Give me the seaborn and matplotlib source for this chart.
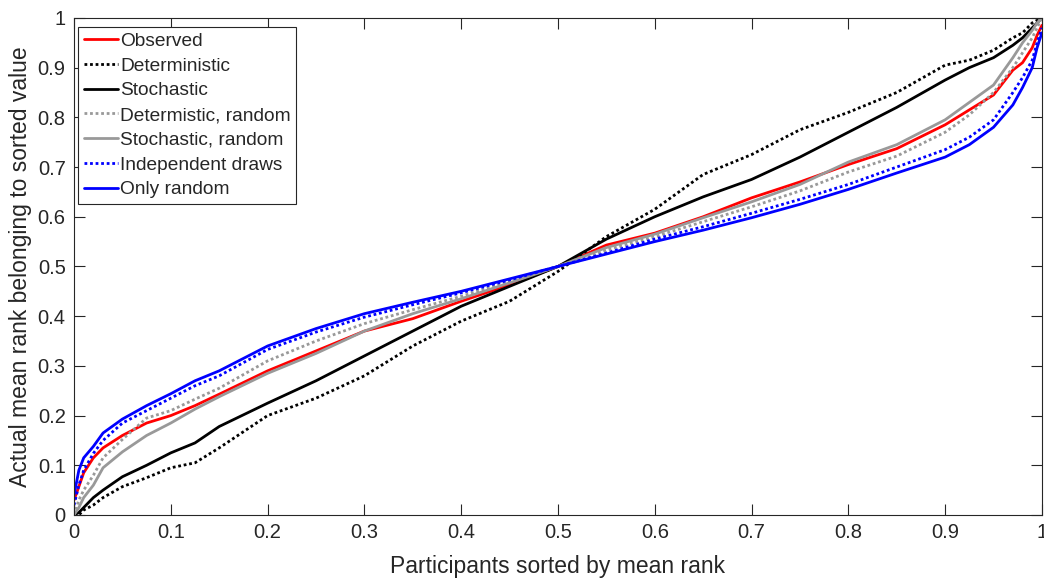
from __future__ import annotations

import matplotlib

matplotlib.use("Agg")
import matplotlib.pyplot as plt
import pandas as pd
import seaborn as sns


sns.set_theme(style="ticks")
plt.rcParams["font.family"] = ["Liberation Sans", "DejaVu Sans"]

x_share = [0, 0.005, 0.01, 0.02, 0.03, 0.05, 0.075, 0.1, 0.125, 0.15, 0.2, 0.25, 0.3, 0.35,
           0.4, 0.45, 0.5, 0.55, 0.6, 0.65, 0.7, 0.75, 0.8, 0.85, 0.9, 0.925, 0.95, 0.97,
           0.98, 0.99, 0.995, 1.0]

observed = [0.03, 0.057, 0.085, 0.115, 0.135, 0.16, 0.185, 0.2, 0.22, 0.243, 0.29, 0.33,
            0.37, 0.395, 0.43, 0.463, 0.5, 0.543, 0.567, 0.6, 0.638, 0.67, 0.705, 0.737,
            0.785, 0.815, 0.845, 0.895, 0.91, 0.94, 0.965, 0.985]
deterministic = [0.0, 0.0, 0.01, 0.02, 0.035, 0.057, 0.075, 0.095, 0.105, 0.135, 0.2, 0.235,
                 0.28, 0.34, 0.39, 0.43, 0.49, 0.56, 0.615, 0.685, 0.725, 0.775, 0.81, 0.85,
                 0.905, 0.915, 0.935, 0.96, 0.97, 0.99, 0.995, 1.0]
stochastic = [0.0, 0.005, 0.015, 0.035, 0.05, 0.077, 0.1, 0.125, 0.145, 0.178, 0.225, 0.27,
              0.32, 0.37, 0.42, 0.46, 0.5, 0.555, 0.6, 0.64, 0.675, 0.72, 0.77, 0.82, 0.875,
              0.9, 0.92, 0.945, 0.96, 0.98, 0.99, 1.0]
determ_random = [0.0, 0.03, 0.05, 0.08, 0.115, 0.152, 0.195, 0.21, 0.233, 0.255, 0.31, 0.35,
                 0.385, 0.413, 0.44, 0.47, 0.5, 0.533, 0.56, 0.59, 0.62, 0.652, 0.69, 0.722,
                 0.77, 0.805, 0.85, 0.9, 0.93, 0.96, 0.98, 1.0]
stoch_random = [0.0, 0.015, 0.035, 0.06, 0.095, 0.127, 0.16, 0.185, 0.213, 0.238, 0.285,
                0.325, 0.37, 0.405, 0.435, 0.467, 0.5, 0.538, 0.565, 0.598, 0.63, 0.665, 0.71,
                0.745, 0.795, 0.83, 0.865, 0.92, 0.95, 0.975, 0.99, 1.0]
independent = [0.02, 0.06, 0.09, 0.124, 0.15, 0.185, 0.21, 0.235, 0.26, 0.28, 0.333, 0.368,
               0.398, 0.423, 0.447, 0.473, 0.5, 0.527, 0.555, 0.58, 0.607, 0.635, 0.665, 0.7,
               0.735, 0.76, 0.795, 0.85, 0.88, 0.915, 0.95, 0.98]
only_random = [0.04, 0.09, 0.115, 0.138, 0.165, 0.193, 0.22, 0.244, 0.27, 0.29, 0.34, 0.375,
               0.405, 0.428, 0.45, 0.475, 0.5, 0.525, 0.55, 0.573, 0.598, 0.625, 0.655, 0.688,
               0.72, 0.745, 0.78, 0.825, 0.86, 0.9, 0.94, 0.97]

series_names = ["Observed", "Deterministic", "Stochastic", "Determistic, random",
                "Stochastic, random", "Independent draws", "Only random"]
series_values = [observed, deterministic, stochastic, determ_random, stoch_random,
                 independent, only_random]

tick_values = [0, 0.1, 0.2, 0.3, 0.4, 0.5, 0.6, 0.7, 0.8, 0.9, 1]
tick_labels = ["0", "0.1", "0.2", "0.3", "0.4", "0.5", "0.6", "0.7", "0.8", "0.9", "1"]

dotted = (0, (1, 1))
styles = {
    "Observed": ("#ff0000", "-"),
    "Deterministic": ("#000000", dotted),
    "Stochastic": ("#000000", "-"),
    "Determistic, random": ("#999999", dotted),
    "Stochastic, random": ("#999999", "-"),
    "Independent draws": ("#0000ff", dotted),
    "Only random": ("#0000ff", "-"),
}


def main() -> None:
    fig = plt.figure(figsize=(10.44, 5.78), dpi=100)
    ax = fig.add_axes([0.0709, 0.109, 0.9271, 0.860])

    for name, values in zip(series_names, series_values):
        frame = pd.DataFrame({"x": x_share, "y": values})
        color, linestyle = styles[name]
        sns.lineplot(data=frame, x="x", y="y", ax=ax, color=color, linestyle=linestyle,
                     linewidth=2, label=name, errorbar=None)

    ax.set_xlim(0, 1)
    ax.set_ylim(0, 1)
    ax.set_xticks(tick_values)
    ax.set_xticklabels(tick_labels)
    ax.set_yticks(tick_values)
    ax.set_yticklabels(tick_labels)
    ax.tick_params(direction="in", length=8, width=0.8, labelsize=14.5, colors="#262626",
                   top=True, right=True, pad=6)
    for spine in ax.spines.values():
        spine.set_visible(True)
        spine.set_color("#262626")
        spine.set_linewidth(0.8)

    ax.set_xlabel("Participants sorted by mean rank", fontsize=16.5, color="#262626", labelpad=9)
    ax.set_ylabel("Actual mean rank belonging to sorted value", fontsize=16.5, color="#262626",
                  labelpad=4)

    legend = ax.legend(loc="upper left", bbox_to_anchor=(0.004, 0.982), fontsize=13.8,
                       frameon=True, fancybox=False, framealpha=1, edgecolor="#262626",
                       handlelength=1.8, handletextpad=0.1, labelspacing=0.38,
                       borderpad=0.3, borderaxespad=0.0)
    legend.get_frame().set_linewidth(0.8)

    fig.savefig("out.png", dpi=100)
    plt.close(fig)


if __name__ == "__main__":
    main()
